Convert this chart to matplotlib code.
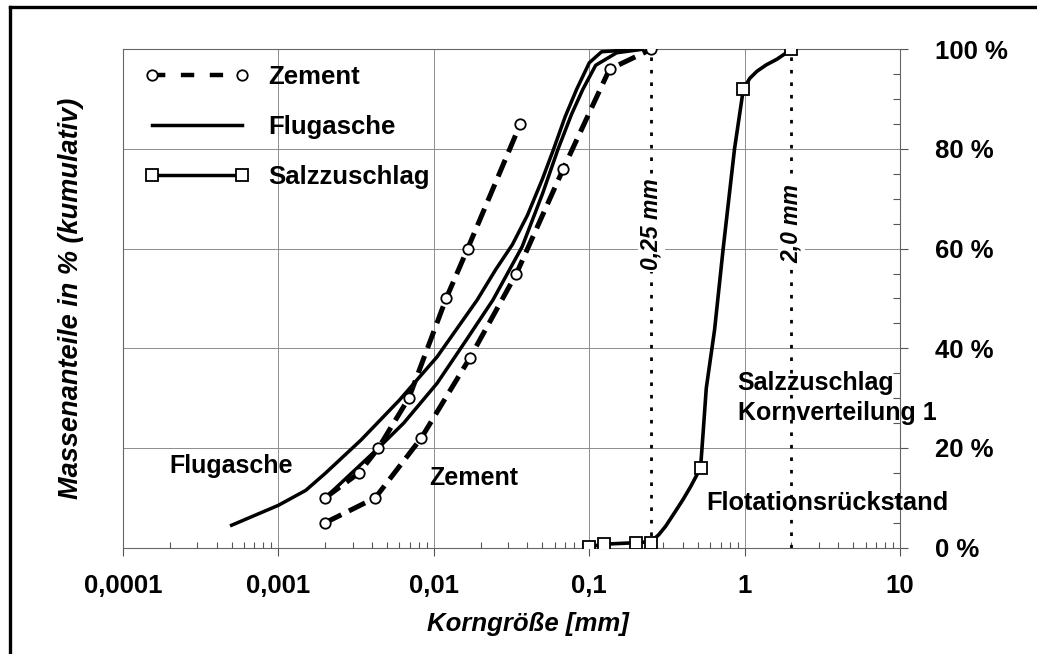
# Kornverteilung: Zement, Flugasche, Salzzuschlag
import matplotlib
matplotlib.use('Agg')
import matplotlib.pyplot as plt
from matplotlib.lines import Line2D
from matplotlib.ticker import NullFormatter, MultipleLocator

plt.rcParams['font.family'] = ['Liberation Sans', 'DejaVu Sans']
plt.rcParams['font.weight'] = 'bold'

# Zement (two samples, dashed with circles)
zement1_x = [0.002, 0.0033, 0.0044, 0.0069, 0.012, 0.0165, 0.036]
zement1_y = [10, 15, 20, 30, 50, 60, 85]
zement2_x = [0.002, 0.0042, 0.0083, 0.017, 0.034, 0.068, 0.135, 0.25]
zement2_y = [5, 10, 22, 38, 55, 76, 96, 100]

# Flugasche (two samples, solid)
flug1_x = [0.0005, 0.001, 0.0015, 0.002, 0.0034, 0.006, 0.0105, 0.019, 0.025,
           0.032, 0.04, 0.05, 0.059, 0.07, 0.083, 0.1, 0.12, 0.2]
flug1_y = [4.5, 8.5, 11.5, 14.9, 21.6, 29.6, 38.3, 49.7, 55.8,
           60.8, 66.7, 74, 80, 86.5, 92, 97.3, 99.5, 100]
flug2_x = [0.002, 0.0044, 0.0064, 0.0105, 0.0162, 0.024, 0.037, 0.05, 0.063,
           0.077, 0.091, 0.11, 0.15, 0.22]
flug2_y = [10, 20, 25, 33, 41.7, 49.7, 60.4, 71, 80, 87, 92, 96.8, 99.3, 100]

salz_x = [0.1, 0.125, 0.2, 0.25, 0.52, 0.98, 2.0]
salz_y = [0.2, 0.7, 1, 1, 16, 92, 100]
salz_curve_x = [0.1, 0.125, 0.2, 0.25, 0.28, 0.31, 0.35, 0.4, 0.45, 0.52,
                0.54, 0.566, 0.64, 0.727, 0.86, 0.98, 1.08, 1.2, 1.38, 1.61, 2.0]
salz_curve_y = [0.2, 0.7, 1, 1.2, 2.6, 4.3, 6.8, 9.6, 12.3, 16,
                23, 32, 43.7, 60, 80, 92, 94.2, 95.6, 96.9, 98, 100]

sieve_x = [0.25, 2.0]
sieve_labels = ['0,25 mm', '2,0 mm']

xtick_vals = [0.0001, 0.001, 0.01, 0.1, 1, 10]
xtick_labels = ['0,0001', '0,001', '0,01', '0,1', '1', '10']
ytick_vals = [0, 20, 40, 60, 80, 100]
ytick_labels = ['0 %', '20 %', '40 %', '60 %', '80 %', '100 %']

fig = plt.figure(figsize=(10.37, 6.54), dpi=100)
ax = fig.add_axes([0.1186, 0.1626, 0.7494, 0.762])

zem_style = dict(color='black', lw=3.6, ls=(0, (3.6, 1.7)), marker='o', ms=7.5,
                 mfc='white', mec='black', mew=1.3, zorder=4)
salz_marker = dict(marker='s', ms=9, mfc='white', mec='black', mew=1.3)

ax.plot(flug1_x, flug1_y, color='black', lw=2.5, zorder=3)
ax.plot(flug2_x, flug2_y, color='black', lw=2.5, zorder=3)
ax.plot(zement1_x, zement1_y, **zem_style)
ax.plot(zement2_x, zement2_y, **zem_style)
ax.plot(salz_curve_x, salz_curve_y, color='black', lw=2.6, zorder=3)
ax.plot(salz_x, salz_y, ls='none', zorder=5, **salz_marker)

for xv, lab in zip(sieve_x, sieve_labels):
    ax.axvline(xv, color='black', lw=2, ls=(0, (1.3, 3.2)), zorder=2)
    ax.text(xv, 65, lab, rotation=90, ha='center', va='center', fontsize=16.5,
            style='italic', fontweight='bold', zorder=6,
            bbox=dict(facecolor='white', edgecolor='none', pad=1.5))

# legend
handles = [Line2D([], [], color='black', lw=3.2, ls=(0, (3, 3.5)), marker='o',
                  ms=7.5, mfc='white', mec='black', mew=1.3),
           Line2D([], [], color='black', lw=2.5),
           Line2D([], [], color='black', lw=2.5, **salz_marker)]
ax.legend(handles, ['Zement', 'Flugasche', 'Salzzuschlag'], loc='upper left',
          bbox_to_anchor=(0.028, 0.968), frameon=False, numpoints=2,
          handlelength=4.1, handletextpad=0.72, labelspacing=1.0,
          fontsize=18.5, borderaxespad=0, borderpad=0)

ax.text(0.0002, 16.4, 'Flugasche', fontsize=18, ha='left', va='center')
ax.text(0.0093, 13.9, 'Zement', fontsize=18, ha='left', va='center')
ax.text(0.9, 30.0, 'Salzzuschlag\nKornverteilung 1', fontsize=18, ha='left',
        va='center', linespacing=1.35)
ax.text(0.565, 8.9, 'Flotationsrückstand', fontsize=18.3, ha='left', va='center')

ax.set_xscale('log')
ax.set_xlim(1e-4, 10)
ax.set_ylim(0, 100)
ax.set_xticks(xtick_vals, xtick_labels)
ax.xaxis.set_minor_formatter(NullFormatter())
ax.yaxis.tick_right()
ax.set_yticks(ytick_vals, ytick_labels)
ax.yaxis.set_minor_locator(MultipleLocator(5))

ax.tick_params(axis='x', which='major', direction='out', length=6, width=0.8,
               color='#555555', pad=13, labelsize=18.5)
ax.tick_params(axis='x', which='minor', direction='in', length=4, width=0.8,
               color='#555555')
ax.tick_params(axis='y', which='major', direction='out', length=6, width=0.8,
               color='#555555', pad=19, labelsize=18.5)
ax.tick_params(axis='y', which='minor', direction='in', length=5, width=0.8,
               color='#555555')

ax.grid(True, which='major', color='#8c8c8c', lw=0.7)
ax.set_axisbelow(True)
for sp in ax.spines.values():
    sp.set_color('#666666')
    sp.set_linewidth(0.8)

ax.set_ylabel('Massenanteile in % (kumulativ)', fontsize=19.5, style='italic',
              fontweight='bold', labelpad=28)
ax.set_xlabel('Korngröße [mm]', fontsize=18.5, style='italic', fontweight='bold')
ax.xaxis.set_label_coords(0.521, -0.13)

# outer frame (top and left edges)
fig.add_artist(Line2D([0.0092, 1.0], [0.9888, 0.9888], color='black', lw=2.4,
                      transform=fig.transFigure))
fig.add_artist(Line2D([0.0092, 0.0092], [0.0, 0.9888], color='black', lw=2.4,
                      transform=fig.transFigure))

fig.savefig('out.png', dpi=100)
